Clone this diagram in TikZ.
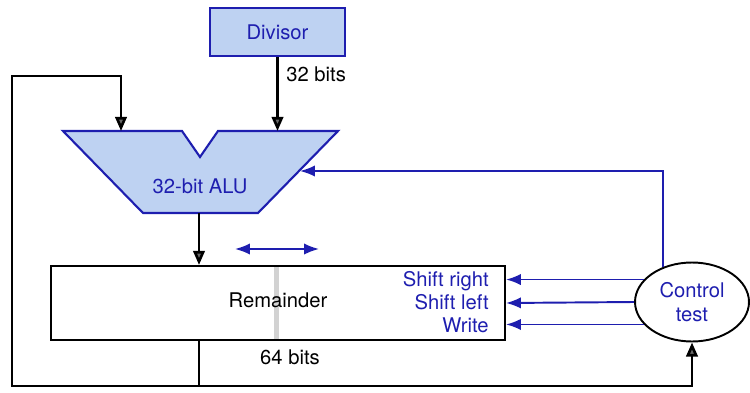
\documentclass[tikz,border=0pt]{standalone}
\usepackage{fontspec}
\setmainfont{TeX Gyre Heros}
\usepackage{xcolor}
\usepackage{tikz}
\usetikzlibrary{shapes.geometric, arrows.meta, positioning, calc}
\definecolor{CtlBlue}{RGB}{30,30,175}
\definecolor{RegFill}{RGB}{190,210,242}
\definecolor{TipGray}{RGB}{105,105,105}

\begin{document}
\begin{tikzpicture}[
  x=0.02cm, y=-0.02cm,
  font=\fontsize{11.5}{13.5}\selectfont,
  regbox/.style={rectangle, draw=CtlBlue, line width=1.2pt,
                 fill=RegFill, minimum width=2.7cm, minimum height=0.96cm},
  plainbox/.style={rectangle, draw=black, line width=1.2pt,
                   minimum width=9.08cm, minimum height=1.48cm},
  ctlnode/.style={ellipse, draw=black, line width=1.1pt, align=center,
                  text=CtlBlue, minimum width=2.28cm, minimum height=1.58cm,
                  inner sep=0pt},
  ctltext/.style={text=CtlBlue, anchor=east, inner sep=0pt},
  datapath/.style={line width=1.5pt, black},
  dataarrow/.style={datapath,
                    -{Triangle[length=8pt, width=6.5pt, fill=TipGray]}},
  ctlarrow/.style={line width=1.1pt, CtlBlue,
                   -{Latex[length=8.5pt, width=6.5pt]}},
]
\useasboundingbox (0,0) rectangle (750,392);

% Divisor register
\node[regbox, text=CtlBlue] (div) at (277.5,32) {Divisor};

% ALU outline with its two inputs
\coordinate (alutl) at (63,131);
\coordinate (alutr) at (338,131);
\coordinate (alubl) at (143,213);
\coordinate (alubr) at (258,213);
\coordinate (alua) at (121,131);
\coordinate (alub) at (277.5,131);
\coordinate (aluout) at (199,213);
\coordinate (aluin) at (300,171);
\filldraw[fill=RegFill, draw=CtlBlue, line width=1.2pt, line join=miter]
  (alutl) -- (182,131) -- (200,157) -- (218,131) -- (alutr)
  -- (alubr) -- (alubl) -- cycle;
\node[text=CtlBlue] (alu) at (200,186) {32-bit ALU};

% Remainder register
\node[plainbox] (rem) at (278,303) {};
\fill[gray!35] (274,267) rectangle (279,339);
\node (remlbl) at (278,300) {Remainder};
\node[ctltext] (shr) at (489,281) {Shift right};
\node[ctltext] (shl) at (489,302) {Shift left};
\node[ctltext] (wr)  at (489,325) {Write};

% shift direction marker
\coordinate (dirl) at (235,249);
\coordinate (dirr) at (319,249);
\draw[ctlarrow, {Latex[length=8.5pt, width=6.5pt]}-{Latex[length=8.5pt, width=6.5pt]}]
  (dirl) -- (dirr);

% Control test
\node[ctlnode] (ctl) at (692,302) {Control\\test};

% data paths
\draw[dataarrow] (div) -- (alub);
\node[anchor=west, inner sep=0pt] (w32) at (286,74) {32 bits};
\draw[dataarrow] (aluout) -- (aluout |- rem.north);
\coordinate (remout) at (199,386);
\draw[datapath] (remout |- rem.south) -- (remout);
\draw[dataarrow] (remout) -| (12,76) -| (alua);
\draw[dataarrow] (remout) -| (ctl.south);
\node (w64) at (290,357) {64 bits};

% control signals
\draw[ctlarrow] (ctl.130) |- (aluin);
\draw[ctlarrow] (ctl.155) -- (ctl.155 -| rem.east);
\draw[ctlarrow] (ctl.west) -- (rem.east);
\draw[ctlarrow] (ctl.205) -- (ctl.205 -| rem.east);

\end{tikzpicture}
\end{document}
